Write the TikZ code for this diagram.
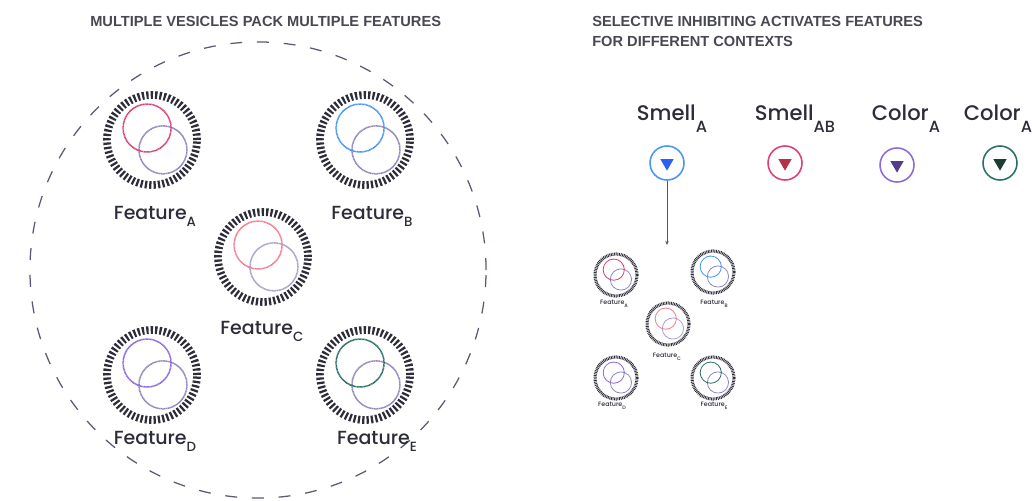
\documentclass[tikz,border=0pt]{standalone}
\usepackage{fontspec}
\setmainfont{Poppins}[UprightFont=* Medium, BoldFont=* SemiBold]
\newfontfamily\headfont{Liberation Sans}
\usetikzlibrary{arrows.meta,positioning,shapes.geometric}

\definecolor{ink}{RGB}{45,45,58}
\definecolor{headgray}{RGB}{72,72,82}
\definecolor{rim}{RGB}{90,90,115}
\definecolor{rose}{RGB}{222,62,112}
\definecolor{blush}{RGB}{242,125,145}
\definecolor{sky}{RGB}{70,150,245}
\definecolor{lilac}{RGB}{140,105,220}
\definecolor{teal}{RGB}{40,112,102}
\definecolor{mauve}{RGB}{145,135,190}
\definecolor{mistmauve}{RGB}{170,160,205}
\definecolor{skytip}{RGB}{45,95,240}
\definecolor{rosetip}{RGB}{180,50,72}
\definecolor{lilactip}{RGB}{85,60,140}
\definecolor{tealtip}{RGB}{28,62,50}

% lowered subscripts, as on the labels
\newcommand{\lowsub}[1]{\raisebox{-5pt}{\fontsize{9.5}{9}\selectfont #1}}
\newcommand{\cuesub}[1]{\raisebox{-8.5pt}{\fontsize{11.5}{11}\selectfont #1}}
\newcommand{\tinysub}[1]{\raisebox{-1.8pt}{\fontsize{3.5}{4}\selectfont #1}}

\tikzset{
	membrane/.style={circle, draw=ink, line width=5.5pt, dash pattern=on 1.6pt off 1.5pt,
		inner sep=0pt, minimum size=2.25cm},
	tinymembrane/.style={membrane, line width=2.2pt, dash pattern=on 0.6pt off 0.55pt,
		minimum size=1.05cm},
	feat/.style={circle, draw=#1, line width=1.1pt, dash pattern=on 0.7pt off 0.3pt,
		inner sep=0pt, minimum size=1.2cm},
	tinyfeat/.style={feat=#1, line width=0.6pt, dash pattern=on 0.4pt off 0.2pt,
		minimum size=0.53cm},
	flabel/.style={font=\fontsize{13.5}{15}\selectfont, text=ink, inner sep=0pt},
	tinylabel/.style={font=\fontsize{4.5}{5}\selectfont, text=ink, inner sep=0pt},
	head/.style={font=\headfont\bfseries\fontsize{10.4}{14.2}\selectfont, text=headgray,
		align=left, anchor=north west, inner sep=0pt},
	cue/.style={circle, draw=#1, line width=1.1pt, inner sep=0pt, minimum size=0.85cm},
	cuetip/.style={regular polygon, regular polygon sides=3, shape border rotate=180,
		fill=#1, inner sep=0pt, minimum size=0.38cm},
	cuelabel/.style={font=\fontsize{15}{17}\selectfont, text=ink, inner sep=0pt}
}

% one vesicle: membrane ring with two feature circles inside
\newcommand{\vesicle}[4]{%
	\node[membrane] (#1) at #2 {};
	\node[feat=#4] (#1-b) at ([shift={(7.8pt,-7pt)}]#1.center) {};
	\node[feat=#3] (#1-a) at ([shift={(-3.5pt,8.5pt)}]#1.center) {};
}
\newcommand{\tinyvesicle}[4]{%
	\node[tinymembrane] (#1) at #2 {};
	\node[tinyfeat=#4] (#1-b) at ([shift={(3.5pt,-3.2pt)}]#1.center) {};
	\node[tinyfeat=#3] (#1-a) at ([shift={(-1.6pt,3.8pt)}]#1.center) {};
}

\begin{document}
\begin{tikzpicture}[x=0.025cm, y=-0.025cm]
	\useasboundingbox (0,0) rectangle (1032,500);

	% left panel
	\node[head] (lefthead) at (90,16) {MULTIPLE VESICLES PACK MULTIPLE FEATURES};
	\node[circle, draw=rim, line width=0.9pt, dash pattern=on 8.5pt off 10.5pt,
		inner sep=0pt, minimum size=11.4cm] (pack) at (258,270) {};

	\vesicle{vA}{(152,140)}{rose}{mauve}
	\vesicle{vB}{(365,140)}{sky}{mauve}
	\vesicle{vC}{(263,257)}{blush}{mistmauve}
	\vesicle{vD}{(152,375)}{lilac}{mauve}
	\vesicle{vE}{(365,375)}{teal}{mauve}

	\node[flabel] (fA) at (155,216) {Feature\lowsub{A}};
	\node[flabel] (fB) at (372,216) {Feature\lowsub{B}};
	\node[flabel] (fC) at (262,331) {Feature\lowsub{C}};
	\node[flabel] (fD) at (155,441) {Feature\lowsub{D}};
	\node[flabel] (fE) at (377,441) {Feature\lowsub{E}};

	% right panel
	\node[head] (righthead) at (592,16) {SELECTIVE INHIBITING ACTIVATES FEATURES\\FOR DIFFERENT CONTEXTS};

	\node[cue=sky] (smellA) at (667,163) {};
	\node[cuetip=skytip] (smellA-tip) at (smellA) {};
	\node[cue=rose] (smellAB) at (785,163) {};
	\node[cuetip=rosetip] (smellAB-tip) at (smellAB) {};
	\node[cue=lilac] (colorA) at (897,165) {};
	\node[cuetip=lilactip] (colorA-tip) at (colorA) {};
	\node[cue=teal] (colorA2) at (1000,163) {};
	\node[cuetip=tealtip] (colorA2-tip) at (colorA2) {};

	\node[cuelabel] (smellA-l) at (672,119) {Smell\cuesub{A}};
	\node[cuelabel] (smellAB-l) at (795,119) {Smell\cuesub{AB}};
	\node[cuelabel] (colorA-l) at (906,119) {Color\cuesub{A}};
	\node[cuelabel] (colorA2-l) at (998,119) {Color\cuesub{A}};

	\coordinate (clustertop) at (667,245);
	\draw[-{Stealth[length=3pt,width=2.5pt]}, ink!80, line width=0.5pt]
		(smellA) -- (clustertop);

	\tinyvesicle{tA}{(616,275)}{rose}{mauve}
	\tinyvesicle{tB}{(713,272)}{sky}{mauve}
	\tinyvesicle{tC}{(668,324)}{blush}{mistmauve}
	\tinyvesicle{tD}{(616,378)}{lilac}{mauve}
	\tinyvesicle{tE}{(713,378)}{teal}{mauve}

	\node[tinylabel] (tlA) at (614,304) {Feature\tinysub{A}};
	\node[tinylabel] (tlB) at (714,304) {Feature\tinysub{B}};
	\node[tinylabel] (tlC) at (667,357) {Feature\tinysub{C}};
	\node[tinylabel] (tlD) at (612,406) {Feature\tinysub{D}};
	\node[tinylabel] (tlE) at (714,406) {Feature\tinysub{E}};
\end{tikzpicture}
\end{document}
